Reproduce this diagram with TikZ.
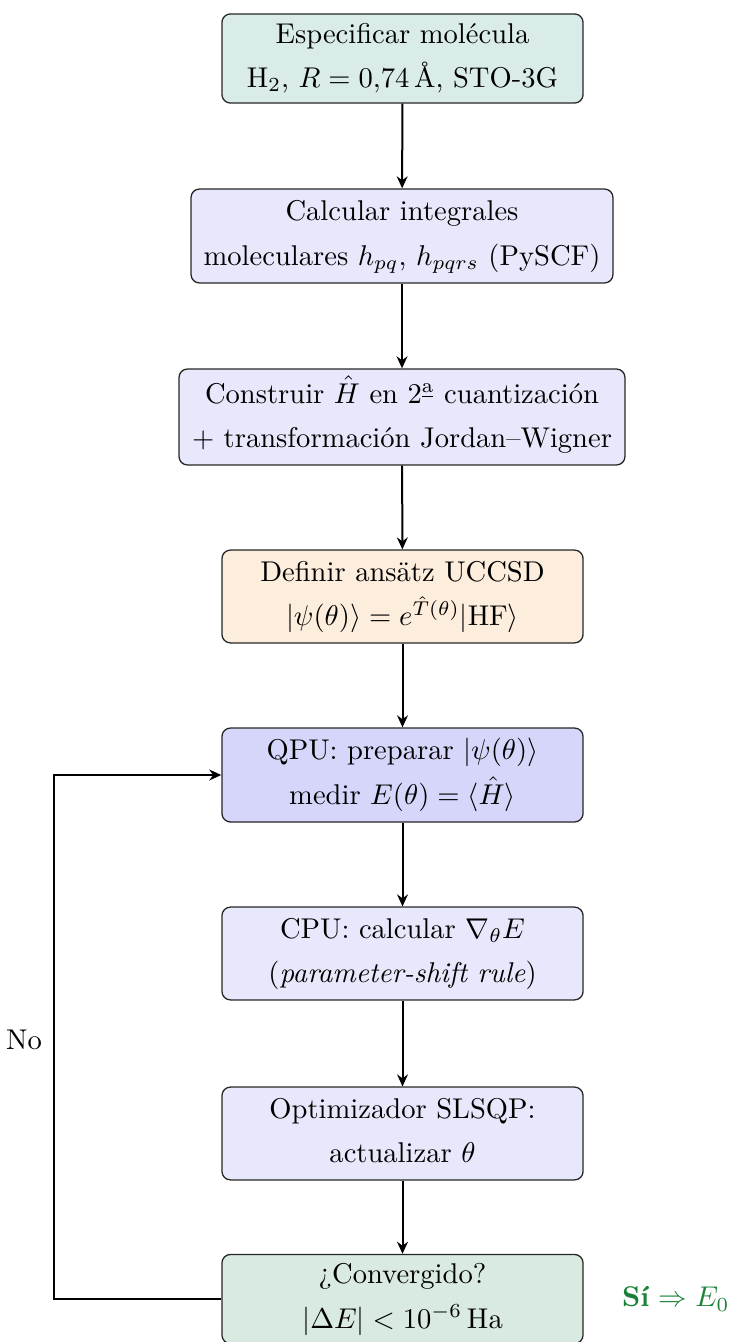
\documentclass[tikz,border=0pt]{standalone}
\usepackage{amsmath}
\usetikzlibrary{arrows.meta}
\definecolor{cteal}{RGB}{217,236,233}
\definecolor{clav}{RGB}{232,232,252}
\definecolor{cpeach}{RGB}{253,237,221}
\definecolor{cqpu}{RGB}{214,214,250}
\definecolor{cconv}{RGB}{217,234,224}
\definecolor{cgreen}{RGB}{25,130,55}
\begin{document}
\begin{tikzpicture}[x=0.35pt,y=-0.35pt,
  box/.style={draw=black!85, line width=0.45pt, rounded corners=3pt, align=center,
    minimum width=126.4pt, inner xsep=3.33pt, inner ysep=1pt,
    execute at begin node={\lineskiplimit=-20pt\relax}},
  arr/.style={-{Stealth[length=4.2pt,width=3.8pt]}, line width=0.7pt},
  looparr/.style={-{Stealth[length=4.2pt,width=3.8pt]}, line width=0.8pt}]
\useasboundingbox (0,0) rectangle (732,1342);
\node[box, fill=cteal, minimum height=31.2pt] (n1) at (402.5,58.5)
  {\strut Especificar molécula\\[3.6pt]\strut H$_2$, $R = 0{,}74\,\text{\AA}$, STO-3G};
\node[box, fill=clav, minimum height=32.9pt, minimum width=147.7pt] (n2) at (402,236)
  {\strut Calcular integrales\\[3.6pt]\strut moleculares $h_{pq}$, $h_{pqrs}$ (PySCF)};
\node[box, fill=clav, minimum height=33.6pt, minimum width=156.1pt] (n3) at (402,417)
  {\strut Construir $\hat{H}$ en 2\textsuperscript{\underline{a}} cuantización\\[3.6pt]\strut + transformación Jordan--Wigner};
\node[box, fill=cpeach, minimum height=32.5pt] (n4) at (402.5,596.5)
  {\strut Definir ansätz UCCSD\\[3.6pt]\strut $|\psi(\theta)\rangle = e^{\hat{T}(\theta)}|\mathrm{HF}\rangle$};
\node[box, fill=cqpu, minimum height=32.9pt] (n5) at (402.5,775)
  {\strut QPU: preparar $|\psi(\theta)\rangle$\\[3.6pt]\strut medir $E(\theta) = \langle \hat{H} \rangle$};
\node[box, fill=clav, minimum height=32.5pt] (n6) at (402.5,953.5)
  {\strut CPU: calcular $\nabla_\theta E$\\[3.6pt]\strut (\textit{parameter-shift rule})};
\node[box, fill=clav, minimum height=32.5pt] (n7) at (402.5,1133.5)
  {\strut Optimizador SLSQP:\\[3.6pt]\strut actualizar $\theta$};
\node[box, fill=cconv, minimum height=31.2pt] (n8) at (402.5,1299)
  {\strut ¿Convergido?\\[3.6pt]\strut $|\Delta E| < 10^{-6}\,\mathrm{Ha}$};
\draw[arr] (n1) -- (n2);
\draw[arr] (n2) -- (n3);
\draw[arr] (n3) -- (n4);
\draw[arr] (n4) -- (n5);
\draw[arr] (n5) -- (n6);
\draw[arr] (n6) -- (n7);
\draw[arr] (n7) -- (n8);
\coordinate (c1) at (54,1299);
\coordinate (c2) at (54,775);
\draw[looparr] (n8.west) -- (c1) -- (c2) -- (n5.west);
\node[anchor=east] (no) at (52,1040) {No};
\node[anchor=west, text=cgreen] (si) at (612,1299) {\textbf{Sí} $\Rightarrow E_0$};
\end{tikzpicture}
\end{document}
